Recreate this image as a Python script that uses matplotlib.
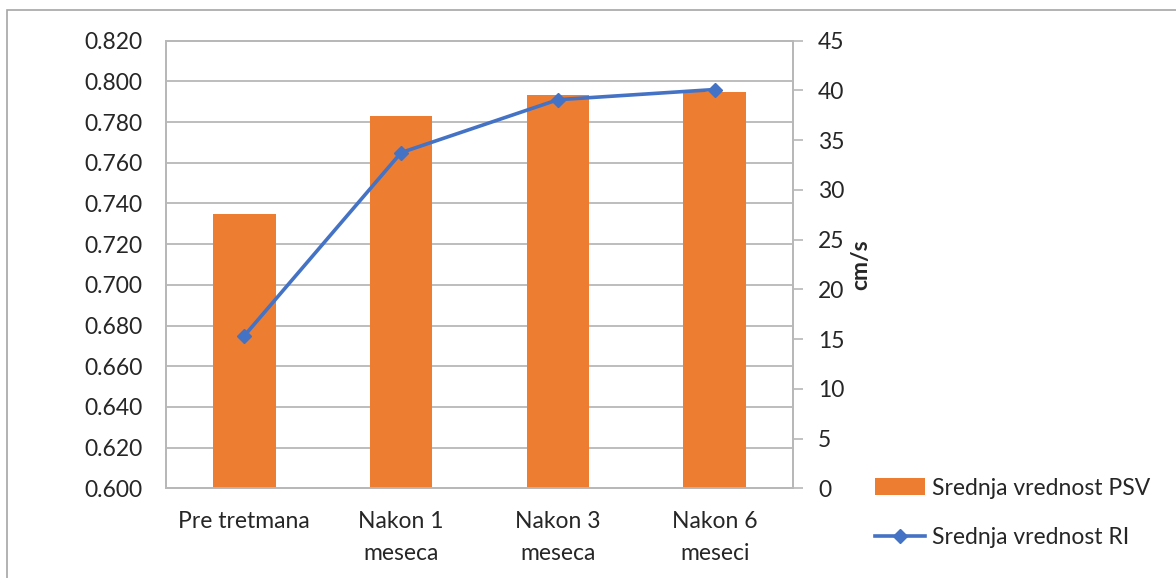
import matplotlib.pyplot as plt
from matplotlib.patches import Rectangle

categories = ['Pre tretmana', 'Nakon 1\nmeseca', 'Nakon 3\nmeseca', 'Nakon 6\nmeseci']
psv_mean = [27.6, 37.4, 39.5, 39.8]       # cm/s
ri_mean = [0.675, 0.765, 0.791, 0.796]
ri_ticks = [0.600 + 0.02 * i for i in range(12)]
psv_ticks = list(range(0, 50, 5))

ORANGE = '#ED7D31'
BLUE = '#4472C4'
GRID = '#b8b8b8'
TEXT = '#262626'
FS = 16.5

plt.rcParams['font.family'] = ['Lato', 'DejaVu Sans']

fig = plt.figure(figsize=(11.76, 5.78), dpi=100)
fig.patches.append(Rectangle((7 / 1176, -0.1), 1.2, 1.1 - 11 / 578 + 0.001,
                             transform=fig.transFigure, fill=False,
                             edgecolor='#a6a6a6', linewidth=1.2))

# RI axis on the left carries the gridlines
ax = fig.add_axes([166 / 1176, 1 - 488.3 / 578, 627 / 1176, 447.6 / 578])
ax.set_ylim(0.600, 0.820)
ax.set_yticks(ri_ticks)
ax.set_yticklabels([f'{t:.3f}' for t in ri_ticks])
ax.yaxis.grid(True, color=GRID, linewidth=1.3)
ax.set_axisbelow(True)
ax.tick_params(axis='y', length=0, pad=17, labelsize=FS, labelcolor=TEXT)
x = list(range(len(categories)))
ax.set_xlim(-0.5, len(categories) - 0.5)
ax.set_xticks(x)
ax.set_xticklabels(categories, linespacing=1.65)
ax.tick_params(axis='x', length=0, pad=16, labelsize=FS, labelcolor=TEXT)
for s in ax.spines.values():
    s.set_color(GRID)
    s.set_linewidth(1.3)

# PSV axis on the right, bars drawn here
ax2 = ax.twinx()
ax2.set_ylim(0, 45)
ax2.set_yticks(psv_ticks)
ax2.tick_params(axis='y', length=7, width=1.2, color=GRID, pad=11,
                labelsize=FS, labelcolor=TEXT)
ax2.set_ylabel('cm/s', fontsize=FS, fontweight='bold', color=TEXT, labelpad=4)
for s in ax2.spines.values():
    s.set_color(GRID)
    s.set_linewidth(1.3)

bars = ax2.bar(x, psv_mean, width=0.4, color=ORANGE, zorder=2,
               label='Srednja vrednost PSV')
line, = ax2.plot(x, ri_mean, transform=ax.transData, color=BLUE, linewidth=2.6,
                 marker='D', markersize=7, zorder=3, label='Srednja vrednost RI')
ax2.set_ylim(0, 45)

fig.legend([bars, line], ['Srednja vrednost PSV', 'Srednja vrednost RI'],
           loc='upper left', bbox_to_anchor=(854 / 1176, 1 - 457 / 578),
           frameon=False, fontsize=FS, labelcolor=TEXT, handlelength=2.2,
           handleheight=0.8, handletextpad=0.3, labelspacing=1.25)

fig.savefig('out.png', dpi=100)
